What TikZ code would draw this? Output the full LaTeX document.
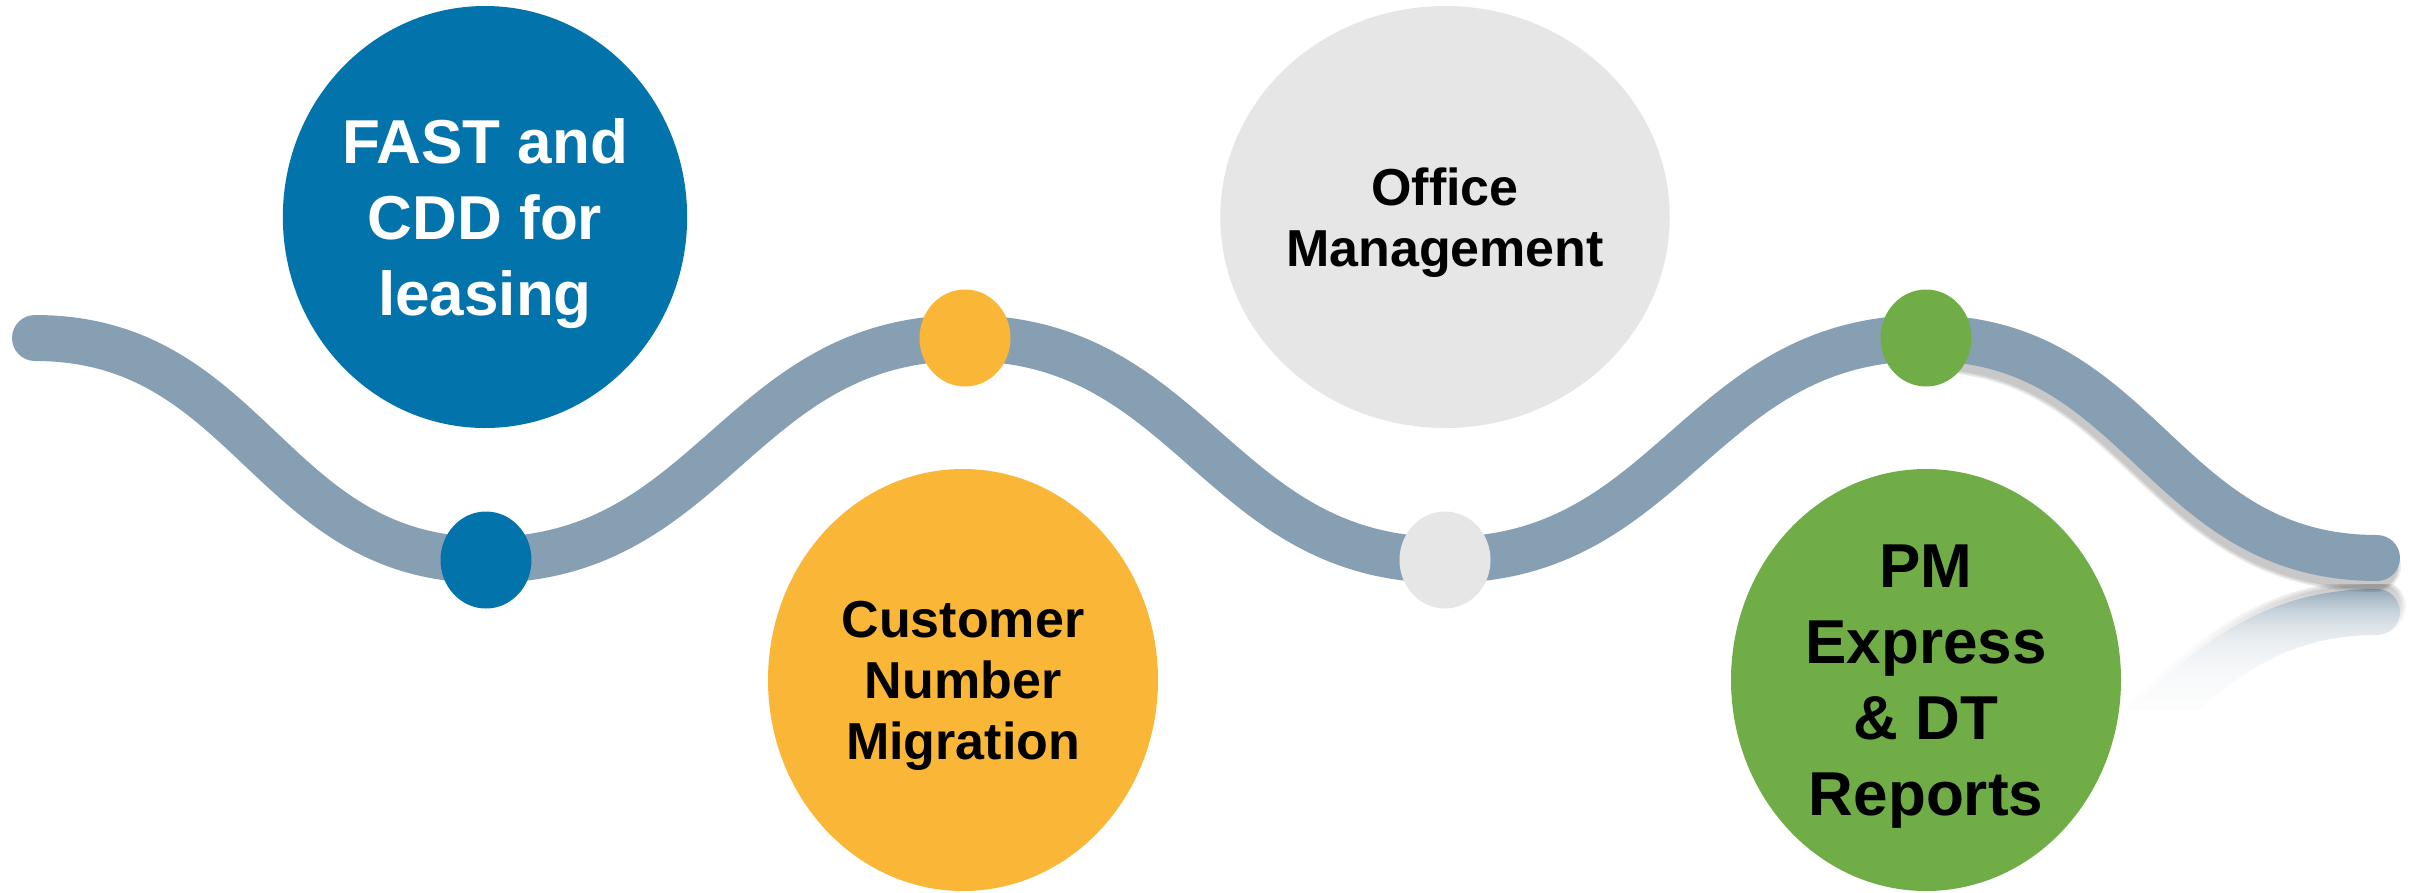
\documentclass[tikz,border=0pt]{standalone}
\usepackage{fontspec}
\setmainfont{Liberation Sans}
\usetikzlibrary{shapes.geometric}
\definecolor{wave}{RGB}{135,159,179}
\definecolor{cblue}{RGB}{3,115,172}
\definecolor{corange}{RGB}{249,182,55}
\definecolor{cgray}{RGB}{230,230,230}
\definecolor{cgreen}{RGB}{112,173,71}
\tikzset{
  bigcirc/.style={ellipse, minimum width=390pt, minimum height=422pt, inner sep=0pt, align=center, text depth=0pt},
  dotnode/.style={ellipse, minimum width=91pt, minimum height=97pt, inner sep=0pt},
  wavestroke/.style={draw=wave, line width=46pt, line cap=round},
  bigfont/.style={font=\fontsize{62}{76}\selectfont\bfseries},
  midfont/.style={font=\fontsize{52}{61}\selectfont\bfseries},
  wv/.style={out=0, in=180, looseness=1.1}
}
\begin{document}
\begin{tikzpicture}[x=1pt, y=-1pt]
\useasboundingbox (0,0) rectangle (2415,892);
% wave key points
\coordinate (L) at (35,338);
\coordinate (T1) at (486,560);
\coordinate (C1) at (965,338);
\coordinate (T2) at (1445,560);
\coordinate (C2) at (1926,338);
\coordinate (R) at (2377,558);
% reflection points
\coordinate (RR) at (2377,612);
\coordinate (C2R) at (1926,832);
% reflection
\begin{scope}
  \clip (2128,584) rectangle (2415,720);
  \foreach \w in {46,50,54}
    \draw[black, opacity=0.08, line width=\w pt, line cap=round, transform canvas={shift={(2pt,5pt)}}] (RR) to[out=180, in=0, looseness=1.1] (C2R);
  \draw[wavestroke] (RR) to[out=180, in=0, looseness=1.1] (C2R);
  \foreach \k in {0,...,66} {
    \pgfmathsetmacro\op{\k>60 ? 1 : min(1,1-0.94*exp(-2*\k/32))}
    \fill[white, opacity=\op] (2128,588+2*\k) rectangle (2415,590+2*\k);
  }
\end{scope}
% shadow of the last segment
\foreach \w in {46,49,52}
  \draw[black, opacity=0.08, line width=\w pt, line cap=round, transform canvas={shift={(-2pt,-8pt)}}] (C2) to[wv] (R);
% main wave
\draw[wavestroke] (L) to[wv] (T1) to[wv] (C1) to[wv] (T2) to[wv] (C2) to[wv] (R);
% dots
\node[dotnode, fill=cblue] (d1) at (T1) {};
\node[dotnode, fill=corange] (d2) at (C1) {};
\node[dotnode, fill=cgray] (d3) at (T2) {};
\node[dotnode, fill=cgreen] (d4) at (C2) {};
% big circles
\node[bigcirc, fill=cblue, text=white, bigfont] (b1) at (485,217) {FAST and\\CDD for\\leasing};
\node[bigcirc, fill=corange, text=black, midfont] (b2) at (963,680) {Customer\\Number\\Migration};
\node[bigcirc, fill=cgray, text=black, midfont] (b3) at (1445,217) {Office\\Management};
\node[bigcirc, fill=cgreen, text=black, bigfont] (b4) at (1926,680) {PM\\Express\\\& DT\\Reports};
\end{tikzpicture}
\end{document}
